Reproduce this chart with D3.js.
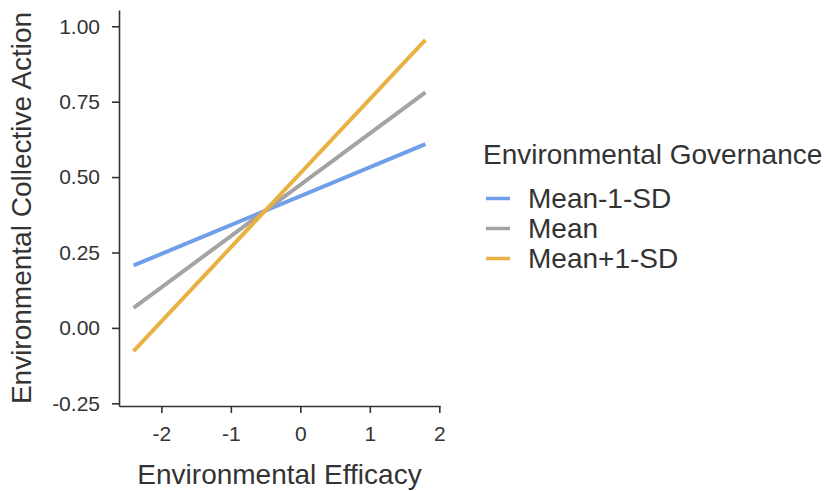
<!DOCTYPE html>
<html>
<head>
<meta charset="utf-8">
<script src="https://cdn.jsdelivr.net/npm/d3@7"></script>
<style>
  html, body { margin: 0; padding: 0; background: #fff; }
  svg { display: block; font-family: "Liberation Sans", Arial, Helvetica, sans-serif; }
</style>
</head>
<body>
<svg id="chart"></svg>
<script>
// Data
const groups = ['Mean-1-SD', 'Mean', 'Mean+1-SD'];
const efficacy = [-2.4, 1.8];
const lowGov = [0.207, 0.609];
const meanGov = [0.066, 0.781];
const highGov = [-0.077, 0.955];
const xTicks = [-2, -1, 0, 1, 2];
const yTicks = [-0.25, 0, 0.25, 0.5, 0.75, 1.0];
const colors = ['#6f9fe9', '#a3a3a3', '#e8b141'];

const width = 826;
const height = 491;
const margin = { top: 10, right: 386, bottom: 85, left: 119 };
const innerWidth = width - margin.left - margin.right;
const innerHeight = height - margin.top - margin.bottom;

const svg = d3.select('#chart')
    .attr('width', width)
    .attr('height', height);

const container = svg.append('g')
    .attr('transform', `translate(${margin.left}, ${margin.top})`);

// Scales
const xScale = d3.scaleLinear()
    .domain([-2.61, 2.01])
    .range([0, innerWidth]);

const yScale = d3.scaleLinear()
    .domain([-0.259, 1.054])
    .range([innerHeight, 0]);

// Axes (plain hyphen for negatives, like the original)
const xAxis = d3.axisBottom(xScale)
    .tickValues(xTicks)
    .tickFormat(d => String(d))
    .tickSize(7)
    .tickSizeOuter(0)
    .tickPadding(13);

const yAxis = d3.axisLeft(yScale)
    .tickValues(yTicks)
    .tickFormat(d => d.toFixed(2))
    .tickSize(7)
    .tickSizeOuter(0)
    .tickPadding(12);

const gX = container.append('g')
    .attr('transform', `translate(0, ${innerHeight})`)
    .call(xAxis);

const gY = container.append('g').call(yAxis);

[gX, gY].forEach(g => {
    g.select('.domain').attr('stroke', '#333').attr('stroke-width', 1.6);
    g.selectAll('.tick line').attr('stroke', '#333').attr('stroke-width', 1.6);
    g.selectAll('.tick text')
        .attr('fill', '#333')
        .style('font-size', '21px')
        .style('font-family', '"Liberation Sans", Arial, sans-serif');
});

// Lines
const series = [lowGov, meanGov, highGov].map((vals, i) => ({
    name: groups[i],
    color: colors[i],
    points: efficacy.map((x, j) => ({ x, y: vals[j] }))
}));

const line = d3.line()
    .x(d => xScale(d.x))
    .y(d => yScale(d.y));

container.append('g')
    .selectAll('path')
    .data(series)
    .enter()
    .append('path')
    .attr('d', d => line(d.points))
    .attr('fill', 'none')
    .attr('stroke', d => d.color)
    .attr('stroke-width', 4);

// Axis titles
svg.append('text')
    .attr('x', margin.left + xScale(-0.3))
    .attr('y', 484)
    .attr('text-anchor', 'middle')
    .attr('fill', '#333')
    .style('font-size', '28px')
    .text('Environmental Efficacy');

svg.append('text')
    .attr('transform', `translate(31, ${margin.top + innerHeight / 2}) rotate(-90)`)
    .attr('text-anchor', 'middle')
    .attr('fill', '#333')
    .style('font-size', '28px')
    .text('Environmental Collective Action');

// Legend
const legend = svg.append('g').attr('transform', 'translate(483, 0)');

legend.append('text')
    .attr('x', 0)
    .attr('y', 164)
    .attr('fill', '#333')
    .style('font-size', '28px')
    .text('Environmental Governance');

const items = legend.selectAll('g.item')
    .data(series)
    .enter()
    .append('g')
    .attr('class', 'item')
    .attr('transform', (d, i) => `translate(0, ${198.5 + i * 30})`);

items.append('line')
    .attr('x1', 3)
    .attr('x2', 27)
    .attr('stroke', d => d.color)
    .attr('stroke-width', 3.5);

items.append('text')
    .attr('x', 45)
    .attr('dy', '0.35em')
    .attr('fill', '#333')
    .style('font-size', '28px')
    .text(d => d.name);
</script>
</body>
</html>
